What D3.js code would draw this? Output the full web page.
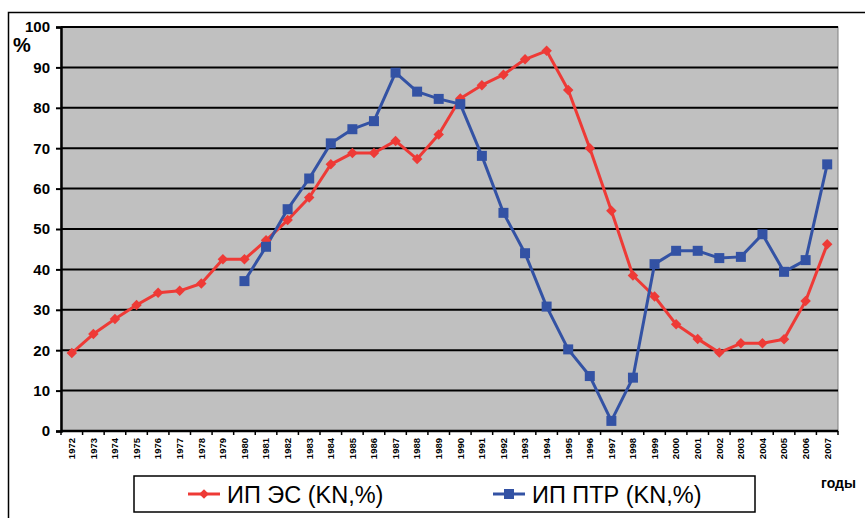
<!DOCTYPE html>
<html><head><meta charset="utf-8">
<script src="https://cdn.jsdelivr.net/npm/d3@7"></script>
<style>body{margin:0;background:#fff}svg{display:block}</style>
</head><body><svg id="c" width="865" height="518"></svg>
<script>
const years = d3.range(1972, 2008).map(String);
const esValues = [19.3,24.0,27.7,31.2,34.2,34.7,36.5,42.5,42.5,47.2,52.2,57.8,66.0,68.8,68.8,71.8,67.3,73.4,82.3,85.6,88.2,92.0,94.1,84.4,70.0,54.5,38.5,33.3,26.4,22.8,19.4,21.7,21.7,22.7,32.2,46.2];
const ptrYears = d3.range(1980, 2008).map(String);
const ptrValues = [37.1,45.6,54.9,62.5,71.2,74.7,76.7,88.7,84.0,82.2,80.9,68.1,54.0,44.0,30.8,20.2,13.6,2.5,13.2,41.3,44.6,44.6,42.8,43.1,48.7,39.4,42.3,66.0];
const yTicks = [0,10,20,30,40,50,60,70,80,90,100];
const seriesNames = ["ИП ЭС (KN,%)", "ИП ПТР (KN,%)"];
const red = "#ee3a36", blue = "#3352a4";

const svg = d3.select("#c");
const L = 61, T = 27, R = 838, B = 431;
const FONT = "Arial, 'Liberation Sans', sans-serif";
svg.append("rect").attr("x",8.5).attr("y",12.5).attr("width",880).attr("height",520)
  .attr("fill","none").attr("stroke","#000").attr("stroke-width",1.5);

const x = d3.scaleBand().domain(years).range([L,R]);
const y = d3.scaleLinear().domain([0,100]).range([B,T]);

svg.append("rect").attr("x",L).attr("y",T).attr("width",R-L).attr("height",B-T)
  .attr("fill","#c0c0c0").attr("stroke","#808080").attr("stroke-width",1);

svg.append("g").selectAll("line").data(yTicks.slice(1)).join("line")
  .attr("x1",L).attr("x2",R).attr("y1",d=>y(d)).attr("y2",d=>y(d))
  .attr("stroke","#000").attr("stroke-width",2);

const ya = svg.append("g").attr("transform",`translate(${L},0)`)
  .call(d3.axisLeft(y).tickValues(yTicks).tickSize(5).tickPadding(6));
ya.select(".domain").attr("stroke","#000").attr("stroke-width",2.5);
ya.selectAll(".tick line").attr("stroke","#000").attr("stroke-width",2);
ya.selectAll("text").attr("font-family",FONT)
  .attr("font-weight","bold").attr("font-size",15).attr("fill","#000");

const xa = svg.append("g").attr("transform",`translate(0,${B})`)
  .call(d3.axisBottom(x).tickSize(0).tickPadding(0));
xa.select(".domain").remove();
xa.append("line").attr("x1",L).attr("x2",R).attr("stroke","#000").attr("stroke-width",2.5);
xa.selectAll(".bt").data(years.concat(["end"])).join("line").attr("class","bt")
  .attr("x1",(d,i)=>L+i*x.step()).attr("x2",(d,i)=>L+i*x.step())
  .attr("y1",0).attr("y2",4).attr("stroke","#000").attr("stroke-width",1.5);
xa.selectAll(".tick text")
  .attr("font-family",FONT)
  .attr("font-weight","bold").attr("font-size",9.5).attr("fill","#000")
  .attr("transform","rotate(-90)").attr("text-anchor","end")
  .attr("x",-7).attr("y",0).attr("dy","0.35em");

svg.append("text").attr("x",13).attr("y",52).text("%")
  .attr("font-family",FONT)
  .attr("font-weight","bold").attr("font-size",20).attr("fill","#000");

const cx = d=>x(d)+x.bandwidth()/2;
const esData = years.map((yr,i)=>({yr, v:esValues[i]}));
const ptrData = ptrYears.map((yr,i)=>({yr, v:ptrValues[i]}));
const line = d3.line().x(d=>cx(d.yr)).y(d=>y(d.v));

svg.append("path").datum(esData).attr("d",line).attr("fill","none")
  .attr("stroke",red).attr("stroke-width",3).attr("stroke-linejoin","round");
svg.append("path").datum(ptrData).attr("d",line).attr("fill","none")
  .attr("stroke",blue).attr("stroke-width",3).attr("stroke-linejoin","round");

const diamond = d3.symbol().type(d3.symbolDiamond2).size(70);
svg.append("g").selectAll("path").data(esData).join("path")
  .attr("d",diamond).attr("transform",d=>`translate(${cx(d.yr)},${y(d.v)})`).attr("fill",red);
svg.append("g").selectAll("rect").data(ptrData).join("rect")
  .attr("x",d=>cx(d.yr)-5).attr("y",d=>y(d.v)-5).attr("width",10).attr("height",10).attr("fill",blue);

const lg = svg.append("g");
lg.append("rect").attr("x",134).attr("y",476).attr("width",621).attr("height",36)
  .attr("fill","#fff").attr("stroke","#000").attr("stroke-width",1.5);
const items = [{name:seriesNames[0], c:red, x:188, sym:"d"},{name:seriesNames[1], c:blue, x:493, sym:"s"}];
items.forEach(it=>{
  lg.append("line").attr("x1",it.x).attr("x2",it.x+32).attr("y1",494).attr("y2",494)
    .attr("stroke",it.c).attr("stroke-width",3);
  if(it.sym==="d") lg.append("path").attr("d",d3.symbol().type(d3.symbolDiamond2).size(60))
    .attr("transform",`translate(${it.x+16},494)`).attr("fill",it.c);
  else lg.append("rect").attr("x",it.x+11).attr("y",489).attr("width",10).attr("height",10).attr("fill",it.c);
  lg.append("text").attr("x",it.x+39).attr("y",502.5).text(it.name)
    .attr("font-family",FONT).attr("font-size",23.5).attr("fill","#000");
});
svg.append("text").attr("x",821).attr("y",488).text("годы")
  .attr("font-family",FONT).attr("font-weight","bold")
  .attr("font-size",14).attr("fill","#000");
</script></body></html>
